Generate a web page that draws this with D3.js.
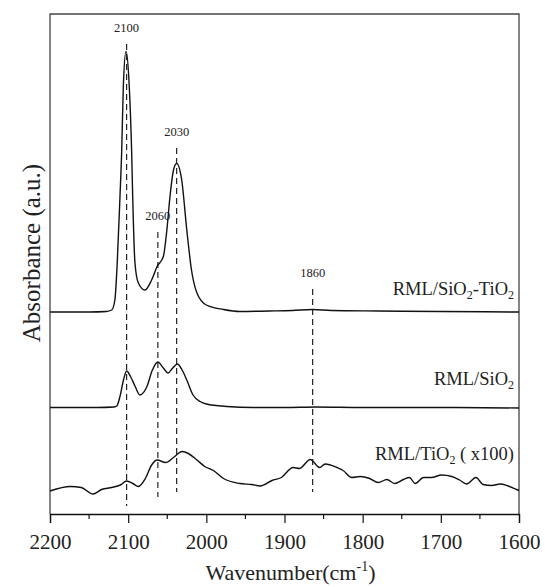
<!DOCTYPE html>
<html>
<head>
<meta charset="utf-8">
<script src="https://cdn.jsdelivr.net/npm/d3@7"></script>
<style>
  body { margin: 0; background: #fff; }
  svg text { font-family: "Liberation Serif", "Times New Roman", serif; fill: #222; }
</style>
</head>
<body>
<div id="chart"></div>
<script>
// spectra, [wavenumber, absorbance a.u. incl. stacking offset]
const siTiSeries = [
  [2200, 40.4], [2150, 40.4], [2128, 40.5], [2121, 40.8], [2117, 42.8], [2114, 50.2],
  [2110.5, 63.4], [2108.3, 72.5], [2106.2, 85.5], [2102.8, 92.5], [2098.6, 85.5],
  [2095.5, 72.2], [2094.2, 63.4], [2091.3, 50.2], [2087, 46.2], [2078.5, 44.8],
  [2070, 46.8], [2063, 49.5], [2055, 51.5], [2050.5, 56.8], [2046.5, 63.5], [2042, 68.8],
  [2038, 70.1], [2031.5, 66.8], [2025, 56.8], [2019, 48.8], [2012, 44.2], [2000, 41.8],
  [1978, 40.9], [1957, 40.5], [1920, 40.6], [1890, 40.7], [1864, 40.9], [1840, 40.7],
  [1780, 40.6], [1700, 40.5], [1600, 40.4]
];
const siSeries = [
  [2200, 21.3], [2140, 21.3], [2118, 21.4], [2114.5, 21.6], [2110.5, 23.5], [2106, 26.8],
  [2102, 28.6], [2097, 27.5], [2091, 25.5], [2085, 23.8], [2076, 25.5], [2069, 28.8],
  [2062, 30.4], [2055, 29.2], [2049, 28.2], [2043, 29.2], [2037, 30], [2031, 28.8],
  [2025, 26.8], [2017, 23.8], [2008, 22.5], [2000, 22], [1974, 21.5], [1940, 21.3],
  [1900, 21.3], [1860, 21.4], [1800, 21.3], [1700, 21.3], [1600, 21.2]
];
const tiSeries = [
  [2200, 4.6], [2174, 5.5], [2160, 5.3], [2145, 4.0], [2134, 4.9], [2121, 5.3], [2110, 5.8],
  [2102, 6.6], [2094, 6.1], [2087, 5.5], [2078, 7.1], [2070, 9.8], [2063, 10.8], [2052, 10.3],
  [2042, 11.3], [2031, 12.5], [2023, 12.1], [2012, 10.8], [2002, 9.5], [1991, 8.7],
  [1978, 7.1], [1957, 6.1], [1942, 5.9], [1931, 5.6], [1916, 6.7], [1904, 7.3], [1889, 9.3],
  [1881, 9.1], [1867, 10.9], [1855, 9.3], [1848, 10.0], [1833, 9.3], [1825, 8.7], [1814, 7.3],
  [1803, 7.5], [1791, 7.1], [1780, 6.3], [1769, 6.9], [1759, 6.1], [1748, 6.9], [1740, 7.3],
  [1733, 6.1], [1722, 7.3], [1712, 7.3], [1699, 7.8], [1686, 7.5], [1676, 6.8], [1667, 6.0],
  [1655, 7.3], [1646, 5.9], [1635, 5.7], [1624, 6.0], [1614, 5.6], [1603, 4.9], [1600, 4.7]
];

// series labels: text pieces, true = subscript
const seriesLabels = [
  { parts: [["RML/SiO", false], ["2", true], ["-TiO", false], ["2", true]], level: 43.8 },
  { parts: [["RML/SiO", false], ["2", true]], level: 25.8 },
  { parts: [["RML/TiO", false], ["2", true], [" ( x100)", false]], level: 10.8 }
];

// peak markers
const peakNames = ["2100", "2060", "2030", "1860"];
const peakWavenumbers = [2102, 2062, 2038, 1864];
const peakTops = [94, 56.4, 73.2, 45];
const peakBottoms = [1.6, 3.4, 4.4, 4.4];

const majorTicks = [2200, 2100, 2000, 1900, 1800, 1700, 1600];
const minorTicks = [2150, 2050, 1950, 1850, 1750, 1650];

const W = 545, H = 587;
const margin = { top: 14, right: 26, bottom: 73, left: 50 };

const svg = d3.select("#chart").append("svg")
  .attr("width", W).attr("height", H);

const x = d3.scaleLinear().domain([2200, 1600]).range([margin.left, W - margin.right]);
const y = d3.scaleLinear().domain([0, 100]).range([H - margin.bottom, margin.top]);

// frame
svg.append("path")
  .attr("d", `M${x(2200)},${y(0)}V${y(100)}H${x(1600)}V${y(0)}`)
  .attr("fill", "none").attr("stroke", "#444").attr("stroke-width", 1.3);

// bottom axis
const xAxis = svg.append("g")
  .attr("transform", `translate(0,${y(0)})`)
  .call(d3.axisBottom(x).tickValues(majorTicks).tickSize(9).tickPadding(11).tickFormat(d3.format("d")));
xAxis.attr("font-family", null);
xAxis.select(".domain").attr("stroke", "#111").attr("stroke-width", 1.3);
xAxis.selectAll(".tick line").attr("stroke", "#111").attr("stroke-width", 1.2);
xAxis.selectAll(".tick text")
  .style("font-family", "'Liberation Serif', serif")
  .style("font-size", "21px").attr("fill", "#222");

svg.append("g").selectAll("line")
  .data(minorTicks).join("line")
  .attr("x1", d => x(d)).attr("x2", d => x(d))
  .attr("y1", y(0)).attr("y2", y(0) + 5)
  .attr("stroke", "#111").attr("stroke-width", 1.2);

// titles
const xt = svg.append("text")
  .attr("x", (x(2200) + x(1600)) / 2 + 6).attr("y", 580)
  .attr("text-anchor", "middle").style("font-size", "22px");
xt.append("tspan").text("Wavenumber(cm");
xt.append("tspan").attr("dy", -9).style("font-size", "14px").text("-1");
xt.append("tspan").attr("dy", 9).text(")");

svg.append("text")
  .attr("transform", `translate(40,${(y(0) + y(100)) / 2 - 11}) rotate(-90)`)
  .attr("text-anchor", "middle").style("font-size", "25px")
  .text("Absorbance (a.u.)");

// dashed peak lines
svg.append("g").selectAll("line")
  .data(peakWavenumbers).join("line")
  .attr("x1", d => x(d)).attr("x2", d => x(d))
  .attr("y1", (d, i) => y(peakTops[i])).attr("y2", (d, i) => y(peakBottoms[i]))
  .attr("stroke", "#222").attr("stroke-width", 1.2)
  .attr("stroke-dasharray", "6,4");

svg.append("g").selectAll("text")
  .data(peakNames).join("text")
  .attr("x", (d, i) => x(peakWavenumbers[i]))
  .attr("y", (d, i) => y(peakTops[i]) - 12)
  .attr("text-anchor", "middle").style("font-size", "12.5px")
  .text(d => d);

// spectra
const line = d3.line()
  .x(d => x(d[0])).y(d => y(d[1]))
  .curve(d3.curveMonotoneX);

svg.append("g").selectAll("path")
  .data([siTiSeries, siSeries, tiSeries]).join("path")
  .attr("d", d => line(d.slice().reverse()))
  .attr("fill", "none").attr("stroke", "#111").attr("stroke-width", 1.4);

// series labels
const lab = svg.append("g").selectAll("text")
  .data(seriesLabels).join("text")
  .attr("x", x(1600) - 5).attr("y", d => y(d.level))
  .attr("text-anchor", "end").style("font-size", "18.5px");
lab.each(function(d) {
  const t = d3.select(this);
  d.parts.forEach(([s, sub], i) => {
    const prevSub = i > 0 && d.parts[i - 1][1];
    const ts = t.append("tspan").text(s);
    if (sub) ts.attr("dy", 4).style("font-size", "12px");
    else if (prevSub) ts.attr("dy", -4);
  });
});
</script>
</body>
</html>
